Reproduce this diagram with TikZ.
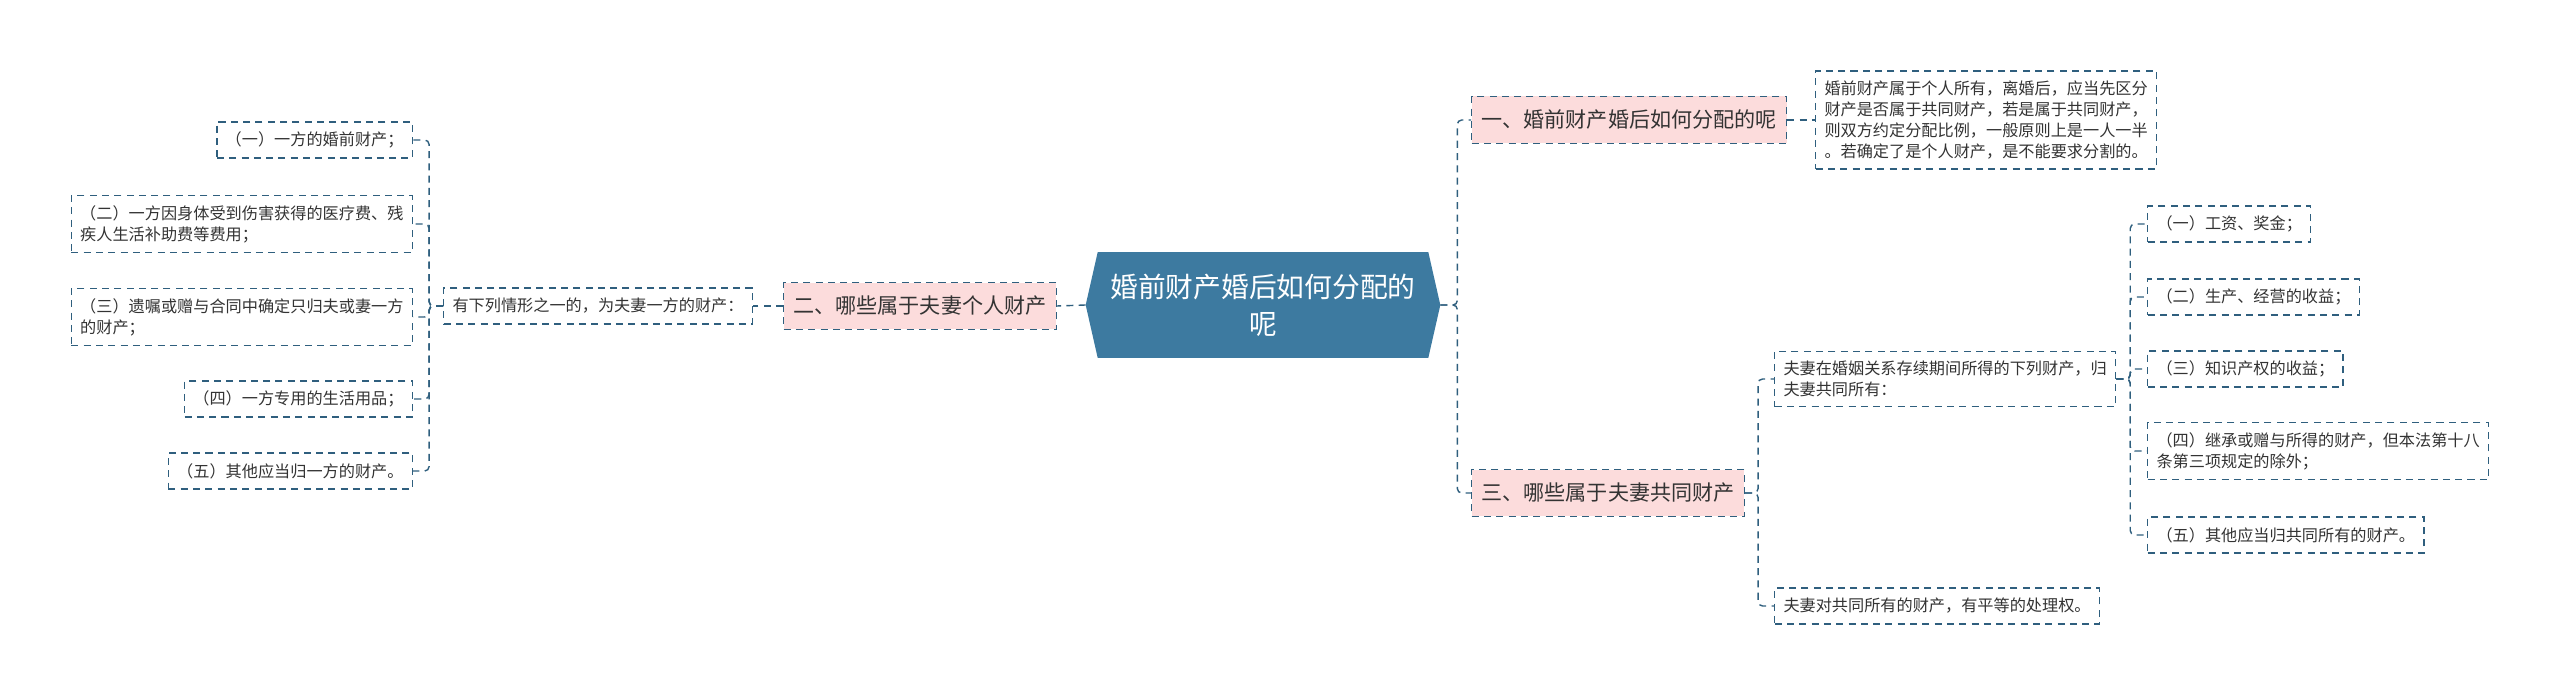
\documentclass[tikz,border=0pt]{standalone}
\usepackage{fontspec}
\setmainfont{Noto Sans CJK SC}
\usetikzlibrary{backgrounds}
\definecolor{steel}{HTML}{3D7AA0}
\definecolor{edge}{HTML}{2F5F7E}
\definecolor{blush}{HTML}{FCDCDC}
\definecolor{ink}{HTML}{333333}
\tikzset{
  rootbox/.style={
    text=white,
    font=\fontsize{15.8}{21}\selectfont,
    align=center,
    minimum width=7.08cm,
    minimum height=2.1cm,
    inner sep=0pt
  },
  topic/.style={
    draw=edge,
    fill=blush,
    dash pattern=on 4pt off 3pt,
    line width=0.8pt,
    text=ink,
    font=\fontsize{12}{15}\selectfont,
    inner xsep=5.6pt,
    minimum height=0.94cm
  },
  leaf/.style={
    draw=edge,
    dash pattern=on 4pt off 3pt,
    line width=0.8pt,
    text=ink,
    font=\fontsize{9.2}{12}\selectfont,
    align=left,
    inner xsep=5pt,
    inner ysep=5.5pt,
    minimum height=0.72cm
  },
  link/.style={
    draw=edge,
    dash pattern=on 4pt off 3pt,
    line width=0.8pt,
    rounded corners=2.5pt
  }
}

\begin{document}
\begin{tikzpicture}[x=0.02cm,y=-0.02cm]
  \useasboundingbox (0,0) rectangle (2560,695);

  % Central topic
  \node[rootbox] (root) at (1263,305) {婚前财产婚后如何分配的\\呢};
  \begin{scope}[on background layer]
    \fill[steel] ([xshift=0.24cm]root.north west) -- ([xshift=-0.24cm]root.north east)
      -- (root.east) -- ([xshift=-0.24cm]root.south east)
      -- ([xshift=0.24cm]root.south west) -- (root.west) -- cycle;
  \end{scope}

  % Left branch: personal property
  \node[topic, anchor=east] (pers) at (1057,306) {二、哪些属于夫妻个人财产};
  \node[leaf, anchor=east] (hint) at (753,306) {有下列情形之一的，为夫妻一方的财产：};
  \node[leaf, anchor=east] (p1) at (413,140) {（一）一方的婚前财产；};
  \node[leaf, anchor=east] (p2) at (413,224) {（二）一方因身体受到伤害获得的医疗费、残\\疾人生活补助费等费用；};
  \node[leaf, anchor=east] (p3) at (413,317) {（三）遗嘱或赠与合同中确定只归夫或妻一方\\的财产；};
  \node[leaf, anchor=east] (p4) at (413,399) {（四）一方专用的生活用品；};
  \node[leaf, anchor=east] (p5) at (413,471) {（五）其他应当归一方的财产。};

  \draw[link] (root.west) -- (pers.east);
  \draw[link] (pers.west) -- (hint.east);
  \foreach \n in {p1,p2,p3,p4,p5} {
    \draw[link] (hint.west) -- ++(-14,0) |- (\n.east);
  }

  % Right branch: question one
  \node[topic, anchor=west] (after) at (1471,120) {一、婚前财产婚后如何分配的呢};
  \node[leaf, anchor=west] (rule) at (1815,120)
    {婚前财产属于个人所有，离婚后，应当先区分\\财产是否属于共同财产，若是属于共同财产，\\则双方约定分配比例，一般原则上是一人一半\\。若确定了是个人财产，是不能要求分割的。};
  \draw[link] (root.east) -- ++(17,0) |- (after.west);
  \draw[link] (after.east) -- (rule.west);

  % Right branch: joint property
  \node[topic, anchor=west] (joint) at (1471,493) {三、哪些属于夫妻共同财产};
  \node[leaf, anchor=west] (during) at (1774,379) {夫妻在婚姻关系存续期间所得的下列财产，归\\夫妻共同所有：};
  \node[leaf, anchor=west] (equal) at (1774,606) {夫妻对共同所有的财产，有平等的处理权。};
  \draw[link] (root.east) -- ++(17,0) |- (joint.west);
  \draw[link] (joint.east) -- ++(13,0) |- (during.west);
  \draw[link] (joint.east) -- ++(13,0) |- (equal.west);

  \node[leaf, anchor=west] (j1) at (2147,224) {（一）工资、奖金；};
  \node[leaf, anchor=west] (j2) at (2147,297) {（二）生产、经营的收益；};
  \node[leaf, anchor=west] (j3) at (2147,369) {（三）知识产权的收益；};
  \node[leaf, anchor=west] (j4) at (2147,451) {（四）继承或赠与所得的财产，但本法第十八\\条第三项规定的除外；};
  \node[leaf, anchor=west] (j5) at (2147,535) {（五）其他应当归共同所有的财产。};
  \foreach \n in {j1,j2,j3,j4,j5} {
    \draw[link] (during.east) -- ++(14,0) |- (\n.west);
  }
\end{tikzpicture}
\end{document}
